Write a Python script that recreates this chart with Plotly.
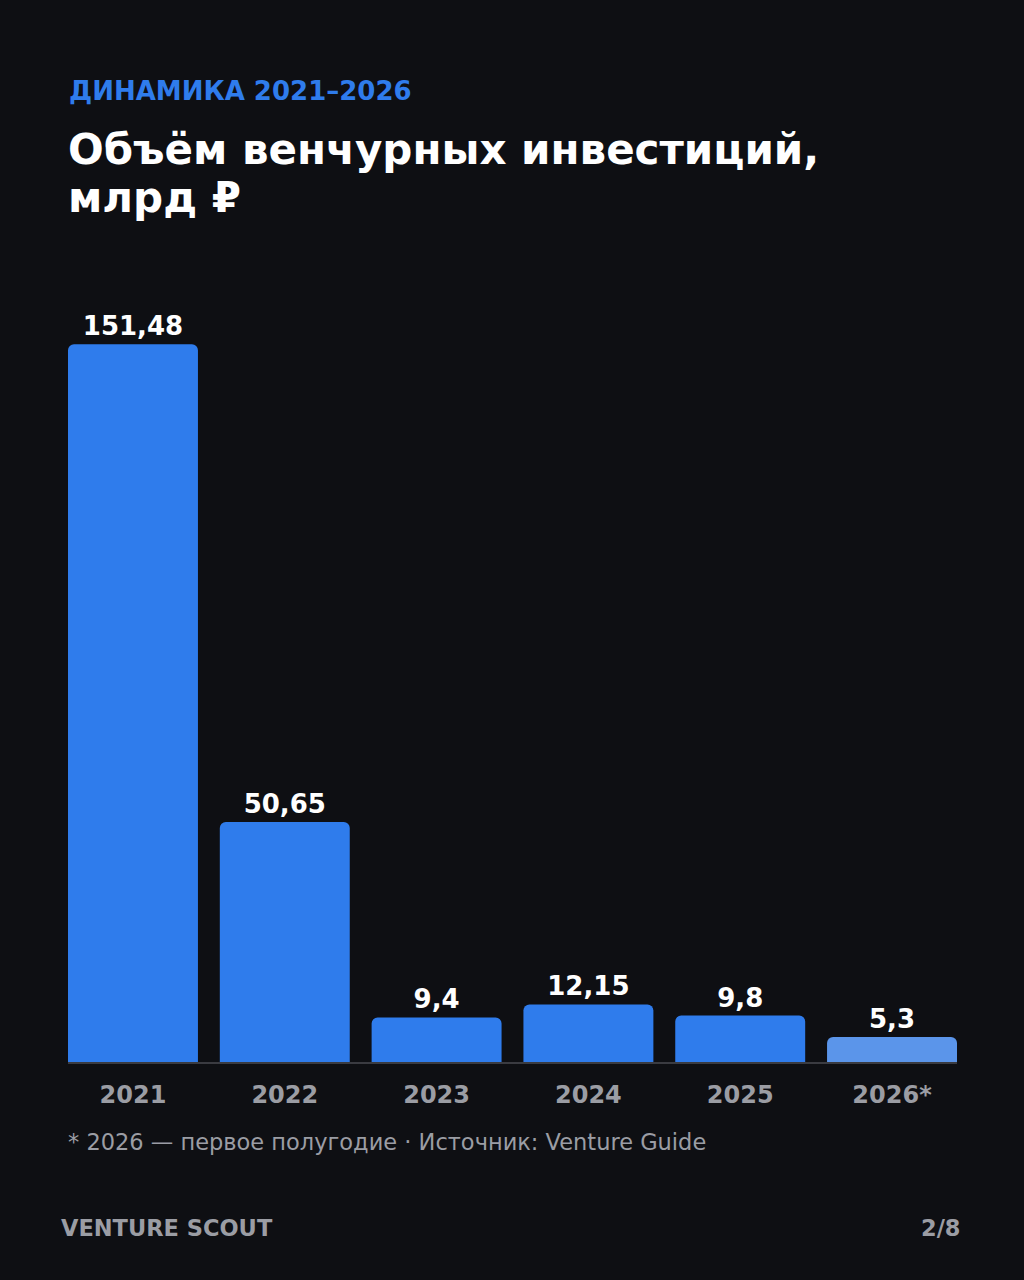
import plotly.graph_objects as go

years = ["2021", "2022", "2023", "2024", "2025", "2026*"]
values = [151.48, 50.65, 9.4, 12.15, 9.8, 5.3]
labels = [f"{v:g}".replace(".", ",") for v in values]
colors = ["#2f7cec"] * 5 + ["#5b95ea"]

BG = "#0e0f13"
GREY = "#9b9da4"
FONT = "DejaVu Sans"
GAP = 0.144

fig = go.Figure()
fig.add_trace(go.Bar(
    x=years, y=values, text=labels, textposition="outside",
    textfont=dict(family=FONT, size=26, color="white", weight="bold"),
    marker=dict(color=colors, cornerradius=6, line=dict(width=0)),
    cliponaxis=False,
))

# page adds an 8px body margin, so figure is 16px smaller and offset
fig.update_layout(
    width=1008, height=1264,
    paper_bgcolor=BG, plot_bgcolor=BG,
    margin=dict(l=60, r=59, t=292, b=210),
    bargap=GAP, showlegend=False,
    font=dict(family=FONT),
    xaxis=dict(tickfont=dict(size=24, color=GREY, weight="bold"), showline=True,
               linecolor="#3a3b41", linewidth=2, ticks="outside", ticklen=10,
               tickcolor=BG, showgrid=False,
               range=[-0.5 + GAP / 2, len(years) - 0.5 - GAP / 2]),
    yaxis=dict(range=[0, 160.8], visible=False, showgrid=False),
)

plot_h = 1264 - 292 - 210


def py(pix):
    return (1062 - pix) / plot_h


fig.add_annotation(text="ДИНАМИКА 2021–2026", xref="paper", yref="paper", x=0, y=py(91),
                   xanchor="left", yanchor="middle", xshift=-1,
                   font=dict(size=26, color="#2f7cec", weight="bold"), showarrow=False)
fig.add_annotation(text="Объём венчурных инвестиций,", xref="paper", yref="paper", x=0,
                   y=py(149), xanchor="left", yanchor="middle", xshift=-2,
                   font=dict(size=42, color="white", weight="bold"), showarrow=False)
fig.add_annotation(text="млрд ₽", xref="paper", yref="paper", x=0, y=py(197),
                   xanchor="left", yanchor="middle", xshift=-2,
                   font=dict(size=42, color="white", weight="bold"), showarrow=False)
fig.add_annotation(text="* 2026 — первое полугодие · Источник: Venture Guide", xref="paper",
                   yref="paper", x=0, y=py(1142), xanchor="left", yanchor="middle",
                   xshift=-2, font=dict(size=22.5, color=GREY), showarrow=False)
fig.add_annotation(text="VENTURE SCOUT", xref="paper", yref="paper", x=0, y=py(1228),
                   xanchor="left", yanchor="middle", xshift=-9,
                   font=dict(size=22.5, color=GREY, weight="bold"), showarrow=False)
fig.add_annotation(text="2/8", xref="paper", yref="paper", x=1, y=py(1228),
                   xanchor="right", yanchor="middle", xshift=6,
                   font=dict(size=22.5, color=GREY, weight="bold"), showarrow=False)

fig.write_html("out.html", post_script="document.body.style.background='%s';" % BG)
